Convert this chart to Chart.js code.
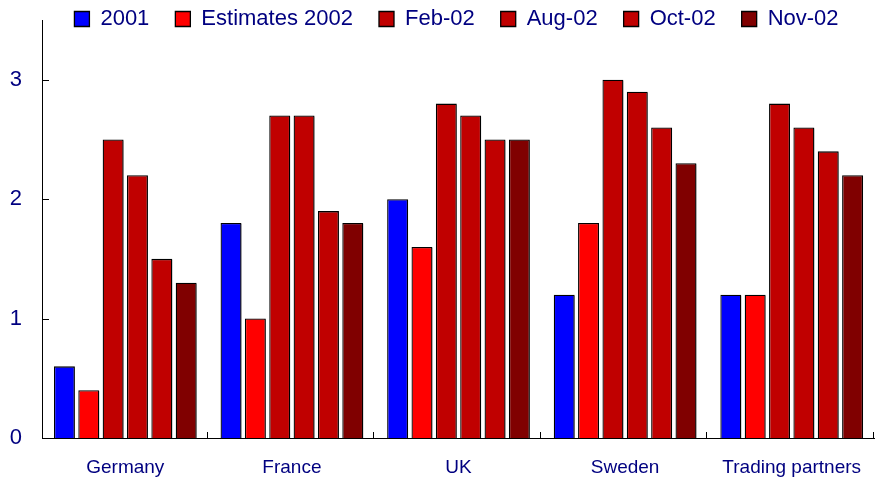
<!DOCTYPE html>
<html>
<head>
<meta charset="utf-8">
<script src="https://cdn.jsdelivr.net/npm/chart.js@4/dist/chart.umd.min.js"></script>
<style>
  html, body { margin: 0; padding: 0; background: #fff; }
  #wrap { width: 875px; height: 478px; }
</style>
</head>
<body>
<div id="wrap"><canvas id="chart"></canvas></div>
<script>
const categories = ['Germany', 'France', 'UK', 'Sweden', 'Trading partners'];
const seriesNames = ['2001', 'Estimates 2002', 'Feb-02', 'Aug-02', 'Oct-02', 'Nov-02'];
const v2001 = [0.6, 1.8, 2.0, 1.2, 1.2];
const vEst2002 = [0.4, 1.0, 1.6, 1.8, 1.2];
const vFeb02 = [2.5, 2.7, 2.8, 3.0, 2.8];
const vAug02 = [2.2, 2.7, 2.7, 2.9, 2.6];
const vOct02 = [1.5, 1.9, 2.5, 2.6, 2.4];
const vNov02 = [1.3, 1.8, 2.5, 2.3, 2.2];
const yTicks = [0, 1, 2, 3];

const seriesValues = [v2001, vEst2002, vFeb02, vAug02, vOct02, vNov02];
const seriesColors = ['#0000FF', '#FF0000', '#C00000', '#C00000', '#C00000', '#800000'];
const textColor = '#000080';
const fontFamily = '"Liberation Sans", Arial, sans-serif';

// bar shadows, like the old office charts
const shadowPlugin = {
  id: 'barShadow',
  beforeDatasetsDraw(chart) {
    const ctx = chart.ctx;
    ctx.save();
    ctx.shadowColor = 'rgba(0,0,0,0.35)';
    ctx.shadowOffsetX = 2;
    ctx.shadowOffsetY = 1;
    ctx.shadowBlur = 0;
  },
  afterDatasetsDraw(chart) {
    chart.ctx.restore();
  }
};

// legend sits above the plot top, over the empty part of the axis
const legendPlugin = {
  id: 'legendTweak',
  beforeInit(chart) {
    const fit = chart.legend.fit;
    chart.legend.fit = function () {
      fit.call(this);
      this.height = 20;
    };
  },
  afterLayout(chart) {
    const lg = chart.legend;
    lg.top = -18;
    lg.bottom = 40;
    lg.left += 19;
    lg.right += 19;
  }
};

// short inward tick marks
const innerTicks = {
  id: 'innerTicks',
  afterDraw(chart) {
    const ctx = chart.ctx;
    const { left, right, bottom } = chart.chartArea;
    const y = chart.scales.y;
    ctx.save();
    ctx.strokeStyle = '#000';
    ctx.lineWidth = 1;
    ctx.beginPath();
    yTicks.forEach(t => {
      const py = Math.round(y.getPixelForValue(t)) + 0.5;
      ctx.moveTo(left, py);
      ctx.lineTo(left + 7, py);
    });
    const w = (right - left) / categories.length;
    for (let i = 1; i <= categories.length; i++) {
      const px = Math.round(left + i * w) - 1.5;
      ctx.moveTo(px, bottom);
      ctx.lineTo(px, bottom - 6);
    }
    ctx.stroke();
    ctx.restore();
  }
};

new Chart(document.getElementById('chart'), {
  type: 'bar',
  data: {
    labels: categories,
    datasets: seriesNames.map((name, i) => ({
      label: name,
      data: seriesValues[i],
      backgroundColor: seriesColors[i],
      borderColor: '#000',
      borderWidth: 1.3,
      barPercentage: 0.86,
      categoryPercentage: 0.877
    }))
  },
  options: {
    responsive: true,
    maintainAspectRatio: false,
    animation: false,
    layout: { padding: { left: 0, right: 0, top: 0, bottom: 0 } },
    plugins: {
      legend: {
        position: 'top',
        labels: {
          color: textColor,
          font: { family: fontFamily, size: 22 },
          boxWidth: 15,
          boxHeight: 15,
          padding: 26
        }
      },
      tooltip: { enabled: false }
    },
    scales: {
      x: {
        grid: { display: false, drawTicks: false },
        border: { color: '#000', width: 1 },
        ticks: {
          color: textColor,
          font: { family: fontFamily, size: 19 },
          padding: 18,
          maxRotation: 0
        },
        afterFit(scale) {
          scale.height = 40;
          scale.paddingLeft = 0;
          scale.paddingRight = 0;
        }
      },
      y: {
        min: 0,
        max: 3.5,
        grid: { display: false, drawTicks: false },
        border: { color: '#000', width: 1 },
        ticks: {
          stepSize: 1,
          color: textColor,
          font: { family: fontFamily, size: 22 },
          padding: 20
        },
        afterBuildTicks(scale) {
          scale.ticks = yTicks.map(v => ({ value: v }));
        },
        afterFit(scale) {
          scale.width = 42;
          scale.paddingTop = 0;
          scale.paddingBottom = 0;
        }
      }
    }
  },
  plugins: [shadowPlugin, legendPlugin, innerTicks]
});
</script>
</body>
</html>
